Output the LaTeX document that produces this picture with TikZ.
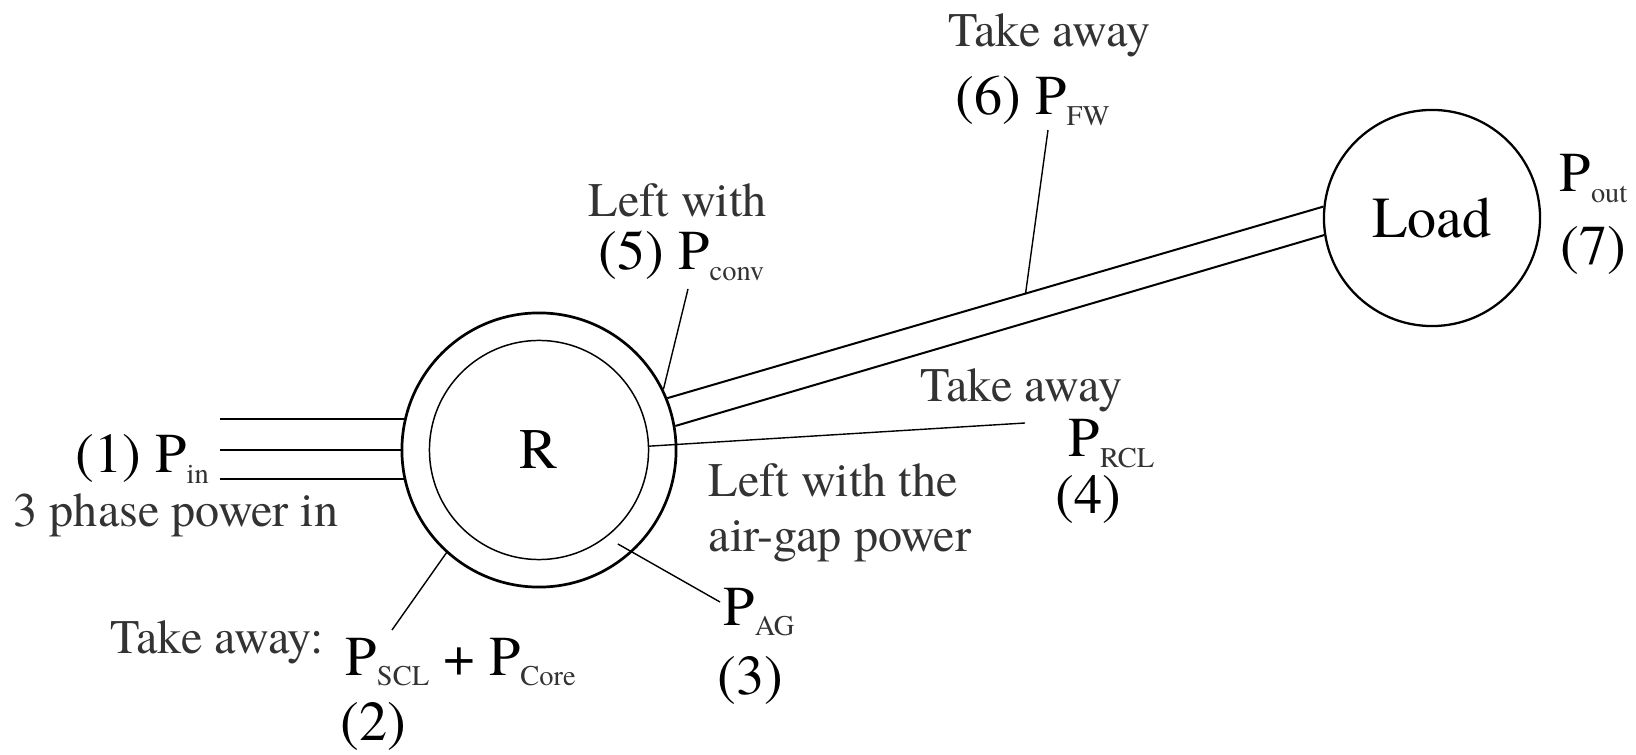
\documentclass[tikz,border=0pt]{standalone}
\usepackage{fontspec}
\setmainfont{TeX Gyre Termes}
\usetikzlibrary{calc}
\newcommand{\pwr}[1]{P\raisebox{-3.1pt}{\fontsize{8.1}{9}\selectfont\color{black!80}#1}}
\tikzset{
stator/.style={circle,draw=black,line width=0.77pt,inner sep=0pt,minimum size=2.74cm},
rotor/.style={circle,draw=black,line width=0.42pt,inner sep=0pt,minimum size=2.19cm,
  font=\fontsize{16.3}{18}\selectfont},
loadc/.style={circle,draw=black,line width=0.65pt,inner sep=0pt,minimum size=2.16cm,
  font=\fontsize{16.5}{18}\selectfont},
wire/.style={line width=0.57pt},
lead/.style={line width=0.4pt},
wordtxt/.style={inner sep=0pt,anchor=base west,text=black!80,font=\fontsize{13.7}{15}\selectfont},
powtxt/.style={inner sep=0pt,anchor=base west,font=\fontsize{16}{18}\selectfont}
}
\begin{document}
\begin{tikzpicture}[x=0.01cm,y=-0.01cm]
\useasboundingbox (0,0) rectangle (1636,755);
\node[stator] (st) at (539,450) {};
\node[rotor] (ro) at (539,450) {R};
\node[loadc] (ld) at (1432,218) {Load};

\coordinate (inleft) at (220,450);
\foreach \a in {167.6,180,192.4}
  \draw[wire] (st.\a) -- (st.\a -| inleft);

\draw[wire] (st.22.3) -- (ld.174.7);
\draw[wire] (st.10.7) -- (ld.189);
\path (st.22.3) -- (ld.174.7) coordinate[pos=0.546] (fwpt);

\node[powtxt] (pin) at (75,473) {(1) \pwr{in}};
\node[wordtxt] (phase) at (13,527) {3 phase power in};

\node[wordtxt] (take2) at (110,653) {Take away:};
\node[powtxt] (scl) at (345,675) {\pwr{SCL} + \pwr{Core}};
\node[powtxt] (two) at (340,740) {(2)};
\coordinate (sclend) at (392,630);
\draw[lead] (sclend) -- (st.228);

\node[powtxt] (ag) at (723,625) {\pwr{AG}};
\node[powtxt] (three) at (717,694) {(3)};
\coordinate (gap) at ($(st.center)!0.886!(st.-50)$);
\coordinate (agend) at (720,602);
\draw[lead] (gap) -- (agend);

\node[wordtxt] (leftair) at (708,497) {Left with the};
\node[wordtxt] (airgap) at (708,552) {air-gap power};

\node[wordtxt] (take4) at (920,402) {Take away};
\node[powtxt] (rcl) at (1068,457) {\pwr{RCL}};
\node[powtxt] (four) at (1055,514) {(4)};
\coordinate (rclend) at (1025,423);
\draw[lead] (ro.2.6) -- (rclend);

\node[wordtxt] (left5) at (588,217) {Left with};
\node[powtxt] (conv) at (598,270) {(5) \pwr{conv}};
\coordinate (convend) at (688,289);
\draw[lead] (convend) -- (st.26.9);

\node[wordtxt] (take6) at (948,47) {Take away};
\node[powtxt] (fw) at (955,115) {(6) \pwr{FW}};
\coordinate (fwend) at (1048,130);
\draw[lead] (fwend) -- (fwpt);

\node[powtxt] (pout) at (1559,192) {\pwr{out}};
\node[powtxt] (seven) at (1560,265) {(7)};
\end{tikzpicture}
\end{document}
